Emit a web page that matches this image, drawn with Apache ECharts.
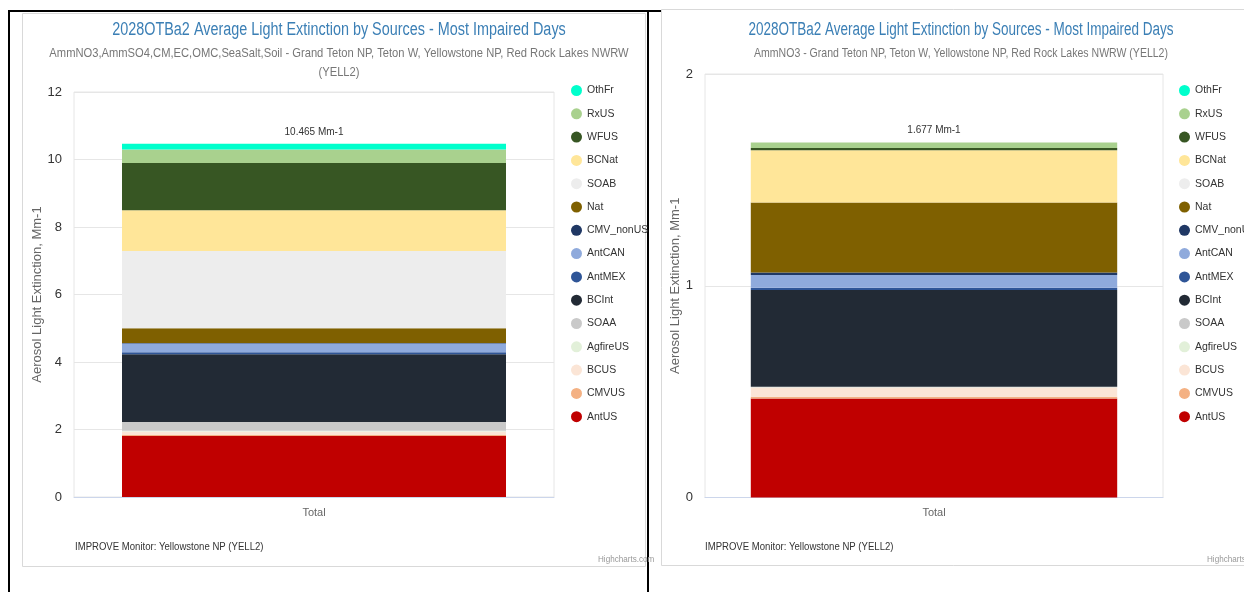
<!DOCTYPE html>
<html>
<head>
<meta charset="utf-8">
<script src="https://cdn.jsdelivr.net/npm/echarts@6/dist/echarts.min.js"></script>
<style>
  html, body { margin: 0; padding: 0; background: #fff; }
  #chart { width: 1244px; height: 592px; }
</style>
</head>
<body>
<div id="chart"></div>
<script>
// Source apportionment of light extinction, stacked bottom (AntUS) to top (OthFr)
const categories = ['Total'];
const sourceNames = ['AntUS', 'CMVUS', 'BCUS', 'AgfireUS', 'SOAA', 'BCInt', 'AntMEX', 'AntCAN',
  'CMV_nonUS', 'Nat', 'SOAB', 'BCNat', 'WFUS', 'RxUS', 'OthFr'];
const sourceColors = ['#C00000', '#F4B183', '#FBE5D6', '#E2F0D9', '#C9C9C9', '#222A35', '#2F5597', '#8FAADC',
  '#203864', '#7F6000', '#EDEDED', '#FFE699', '#375623', '#A9D18E', '#00FFCC'];

// All species (AmmNO3, AmmSO4, CM, EC, OMC, SeaSalt, Soil), Mm-1
const allSpeciesValues = [1.81, 0.03, 0.10, 0.02, 0.26, 2.01, 0.06, 0.26, 0.01, 0.44, 2.29, 1.21, 1.40, 0.40, 0.165];
// AmmNO3 only, Mm-1
const ammNO3Values = [0.468, 0.008, 0.044, 0.001, 0.002, 0.457, 0.011, 0.060, 0.011, 0.331, 0.000, 0.247, 0.011, 0.025, 0.001];

const leftTicks = [0, 2, 4, 6, 8, 10, 12];
const rightTicks = [0, 1, 2];

const FONT = '"Liberation Sans", Arial, Helvetica, sans-serif';
const titleText = '2028OTBa2 Average Light Extinction by Sources - Most Impaired Days';
const leftSubtitle = 'AmmNO3,AmmSO4,CM,EC,OMC,SeaSalt,Soil - Grand Teton NP, Teton W, Yellowstone NP, Red Rock Lakes NWRW\n(YELL2)';
const rightSubtitle = 'AmmNO3 - Grand Teton NP, Teton W, Yellowstone NP, Red Rock Lakes NWRW (YELL2)';
const monitorText = 'IMPROVE Monitor: Yellowstone NP (YELL2)';
const creditText = 'Highcharts.com';
const yAxisTitle = 'Aerosol Light Extinction, Mm-1';

function sum(arr) { return Math.round(arr.reduce((a, b) => a + b, 0) * 1000) / 1000; }

function buildSeries(values, axisIndex, stackId) {
  const total = sum(values);
  return sourceNames.map((name, i) => {
    const s = {
      name: name,
      type: 'bar',
      stack: stackId,
      xAxisIndex: axisIndex,
      yAxisIndex: axisIndex,
      barWidth: '80%',
      itemStyle: { color: sourceColors[i] },
      emphasis: { disabled: true },
      data: categories.map(() => values[i])
    };
    if (i === sourceNames.length - 1) {
      s.label = {
        show: true,
        position: 'top',
        distance: 7,
        fontFamily: FONT,
        fontSize: 10,
        color: '#333',
        formatter: () => total.toFixed(3) + ' Mm-1'
      };
    }
    return s;
  });
}

function valueAxis(ticks, gridIndex, nameGap) {
  return {
    type: 'value',
    gridIndex: gridIndex,
    min: ticks[0],
    max: ticks[ticks.length - 1],
    interval: ticks[1] - ticks[0],
    name: yAxisTitle,
    nameLocation: 'middle',
    nameGap: nameGap,
    nameRotate: 90,
    nameTextStyle: { fontFamily: FONT, fontSize: 13, color: '#666' },
    axisLine: { show: false },
    axisTick: { show: false },
    axisLabel: { fontFamily: FONT, fontSize: 13, color: '#333', margin: 12 },
    splitLine: { lineStyle: { color: '#e6e6e6', width: 1 } }
  };
}

function categoryAxis(gridIndex) {
  return {
    type: 'category',
    gridIndex: gridIndex,
    data: categories,
    axisLine: { lineStyle: { color: '#ccd6eb', width: 1 } },
    axisTick: { show: false },
    axisLabel: { fontFamily: FONT, fontSize: 11, color: '#666', margin: 10 }
  };
}

function legend(left) {
  return {
    orient: 'vertical',
    left: left,
    top: 80,
    icon: 'circle',
    itemWidth: 11,
    itemHeight: 11,
    itemGap: 12.3,
    selectedMode: false,
    data: sourceNames.slice().reverse(),
    textStyle: { fontFamily: FONT, fontSize: 10.5, color: '#333', lineHeight: 11 }
  };
}

// horizontally condensed text used for headings and captions
function condensedText(text, x, y, size, color, scaleX, align) {
  return {
    type: 'text', x: x, y: y, scaleX: scaleX, silent: true,
    style: { text: text, font: size + 'px ' + FONT, fill: color, align: align || 'left', verticalAlign: 'middle' }
  };
}

const chart = echarts.init(document.getElementById('chart'), null, { renderer: 'canvas' });

chart.setOption({
  animation: false,
  backgroundColor: '#fff',
  grid: [
    { left: 74, top: 92, width: 480, height: 405, show: true, borderColor: '#e6e6e6', borderWidth: 1, backgroundColor: 'transparent' },
    { left: 705, top: 74, width: 458, height: 423.5, show: true, borderColor: '#e6e6e6', borderWidth: 1, backgroundColor: 'transparent' }
  ],
  xAxis: [categoryAxis(0), categoryAxis(1)],
  yAxis: [valueAxis(leftTicks, 0, 28), valueAxis(rightTicks, 1, 19)],
  legend: [legend(566), legend(1174)],
  series: buildSeries(allSpeciesValues, 0, 'left').concat(buildSeries(ammNO3Values, 1, 'right')),
  graphic: [
    // panel frames
    { type: 'rect', shape: { x: 22.5, y: 13.5, width: 623, height: 553 }, style: { fill: 'none', stroke: '#d9d9d9', lineWidth: 1 }, silent: true },
    { type: 'rect', shape: { x: 661.5, y: 9.5, width: 600, height: 556 }, style: { fill: 'none', stroke: '#d9d9d9', lineWidth: 1 }, silent: true },
    { type: 'line', shape: { x1: 8, y1: 11, x2: 661, y2: 11 }, style: { stroke: '#000', lineWidth: 2 }, silent: true },
    { type: 'line', shape: { x1: 9, y1: 10, x2: 9, y2: 592 }, style: { stroke: '#000', lineWidth: 2 }, silent: true },
    { type: 'line', shape: { x1: 648, y1: 10, x2: 648, y2: 592 }, style: { stroke: '#000', lineWidth: 2 }, silent: true },
    // headings
    condensedText(titleText, 339, 30, 18, '#3b7fb5', 0.8, 'center'),
    { type: 'text', x: 339, y: 44, scaleX: 0.86, silent: true,
      style: { text: leftSubtitle, font: '13px ' + FONT, fill: '#777', align: 'center', verticalAlign: 'top', lineHeight: 19 } },
    condensedText(titleText, 961, 30, 18, '#3b7fb5', 0.75, 'center'),
    condensedText(rightSubtitle, 961, 53, 13, '#777', 0.81, 'center'),
    // captions
    condensedText(monitorText, 75, 547, 11, '#333', 0.87),
    condensedText(monitorText, 705, 547, 11, '#333', 0.87),
    condensedText(creditText, 598, 560, 9, '#999', 0.9),
    condensedText(creditText, 1207, 560, 9, '#999', 0.9)
  ]
});
</script>
</body>
</html>
